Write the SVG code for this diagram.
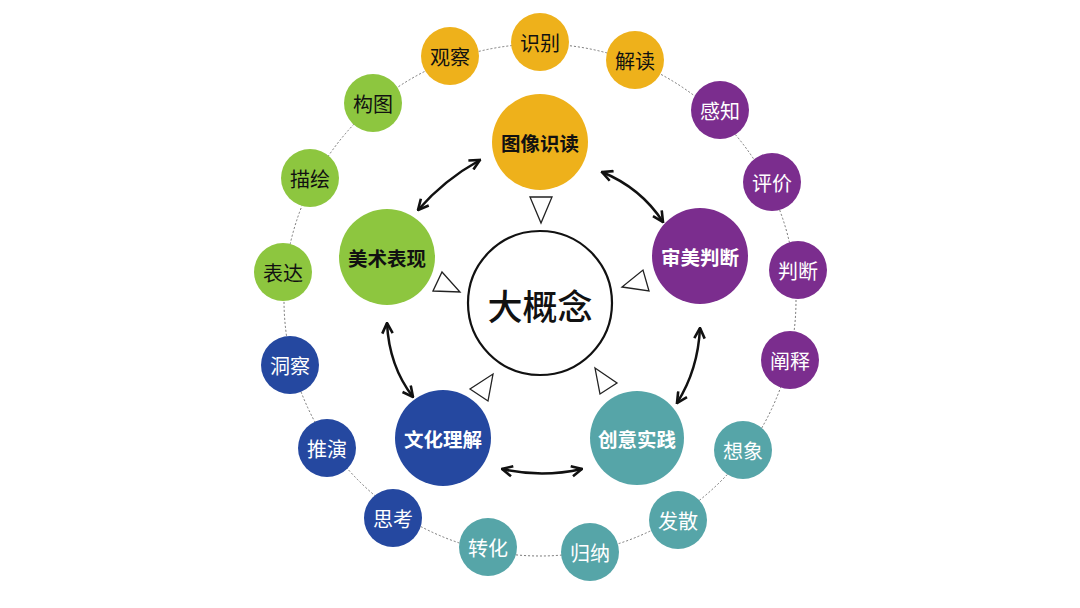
<svg xmlns="http://www.w3.org/2000/svg" width="1080" height="608" viewBox="0 0 1080 608">
<style>
  text { font-family: "Noto Sans CJK SC", "Noto Sans", sans-serif; text-anchor: middle; dominant-baseline: central; }
  .o { font-size: 20px; font-weight: 400; }
  .m { font-size: 19.5px; font-weight: 700; }
  .dk { fill: #111; }
  .wt { fill: #fff; }
  .or { fill: #EEB11B; }
  .gr { fill: #8DC63F; }
  .pu { fill: #7B2D8E; }
  .bl { fill: #2548A0; }
  .te { fill: #56A5A8; }
  .tri { fill: #fff; stroke: #222; stroke-width: 1.3; }
  .arr { fill: none; stroke: #111; stroke-width: 2.5; marker-start: url(#ah); marker-end: url(#ah); }
</style>
<defs>
  <marker id="ah" viewBox="0 0 10 10" refX="9" refY="5" markerWidth="13" markerHeight="13" markerUnits="userSpaceOnUse" orient="auto-start-reverse">
    <path d="M1,1 L9,5 L1,9" fill="none" stroke="#111" stroke-width="2" stroke-linejoin="miter"/>
  </marker>
</defs>
<rect width="1080" height="608" fill="#fff"/>
<circle id="ring" cx="540" cy="300" r="256" fill="none" stroke="#777" stroke-width="1" stroke-dasharray="2,2"/>

<g id="connectors">
  <path class="arr" d="M480,160 Q444,180 418,210"/>
  <path class="arr" d="M602,172 Q641,188 663,222"/>
  <path class="arr" d="M387,323 Q389,366 413,397"/>
  <path class="arr" d="M700,328 Q698,370 677,403"/>
  <path class="arr" d="M502,469 Q542,478 582,469"/>
  <polygon class="tri" points="530,197 552,197 541,223"/>
  <polygon class="tri" points="433,291 460,292 442,272"/>
  <polygon class="tri" points="622,287 649,291 643,270"/>
  <polygon class="tri" points="470,389 488,401 493,374"/>
  <polygon class="tri" points="595,368 617,383 600,394"/>
</g>

<g id="center">
  <circle cx="540" cy="303" r="72" fill="#fff" stroke="#111" stroke-width="2.2"/>
  <text x="540" y="304" style="font-size:35px;font-weight:500" class="dk">大概念</text>
</g>

<g id="main-tuxiang"><circle cx="540" cy="142" r="48" class="or"/><text x="540" y="142" class="m dk">图像识读</text></g>
<g id="main-meishu"><circle cx="387" cy="257" r="48" class="gr"/><text x="387" y="257" class="m dk">美术表现</text></g>
<g id="main-shenmei"><circle cx="700" cy="256" r="48" class="pu"/><text x="700" y="256" class="m wt">审美判断</text></g>
<g id="main-wenhua"><circle cx="443" cy="438" r="48" class="bl"/><text x="443" y="438" class="m wt">文化理解</text></g>
<g id="main-chuangyi"><circle cx="637" cy="438" r="47" class="te"/><text x="637" y="438" class="m wt">创意实践</text></g>

<g id="n-shibie"><circle cx="540" cy="42" r="29" class="or"/><text x="540" y="42" class="o dk">识别</text></g>
<g id="n-jiedu"><circle cx="635" cy="60" r="29" class="or"/><text x="635" y="60" class="o dk">解读</text></g>
<g id="n-guancha"><circle cx="450" cy="56" r="29" class="or"/><text x="450" y="56" class="o dk">观察</text></g>
<g id="n-ganzhi"><circle cx="720" cy="110" r="29" class="pu"/><text x="720" y="110" class="o wt">感知</text></g>
<g id="n-pingjia"><circle cx="772" cy="182" r="29" class="pu"/><text x="772" y="182" class="o wt">评价</text></g>
<g id="n-panduan"><circle cx="798" cy="270" r="29" class="pu"/><text x="798" y="270" class="o wt">判断</text></g>
<g id="n-chanshi"><circle cx="790" cy="360" r="29" class="pu"/><text x="790" y="360" class="o wt">阐释</text></g>
<g id="n-xiangxiang"><circle cx="743" cy="450" r="29" class="te"/><text x="743" y="450" class="o wt">想象</text></g>
<g id="n-fasan"><circle cx="678" cy="520" r="29" class="te"/><text x="678" y="520" class="o wt">发散</text></g>
<g id="n-guina"><circle cx="590" cy="552" r="29" class="te"/><text x="590" y="552" class="o wt">归纳</text></g>
<g id="n-zhuanhua"><circle cx="488" cy="547" r="29" class="te"/><text x="488" y="547" class="o wt">转化</text></g>
<g id="n-sikao"><circle cx="393" cy="518" r="29" class="bl"/><text x="393" y="518" class="o wt">思考</text></g>
<g id="n-tuiyan"><circle cx="327" cy="448" r="29" class="bl"/><text x="327" y="448" class="o wt">推演</text></g>
<g id="n-dongcha"><circle cx="290" cy="365" r="29" class="bl"/><text x="290" y="365" class="o wt">洞察</text></g>
<g id="n-biaoda"><circle cx="283" cy="272" r="29" class="gr"/><text x="283" y="272" class="o dk">表达</text></g>
<g id="n-miaohui"><circle cx="310" cy="178" r="29" class="gr"/><text x="310" y="178" class="o dk">描绘</text></g>
<g id="n-goutu"><circle cx="373" cy="103" r="29" class="gr"/><text x="373" y="103" class="o dk">构图</text></g>
</svg>
